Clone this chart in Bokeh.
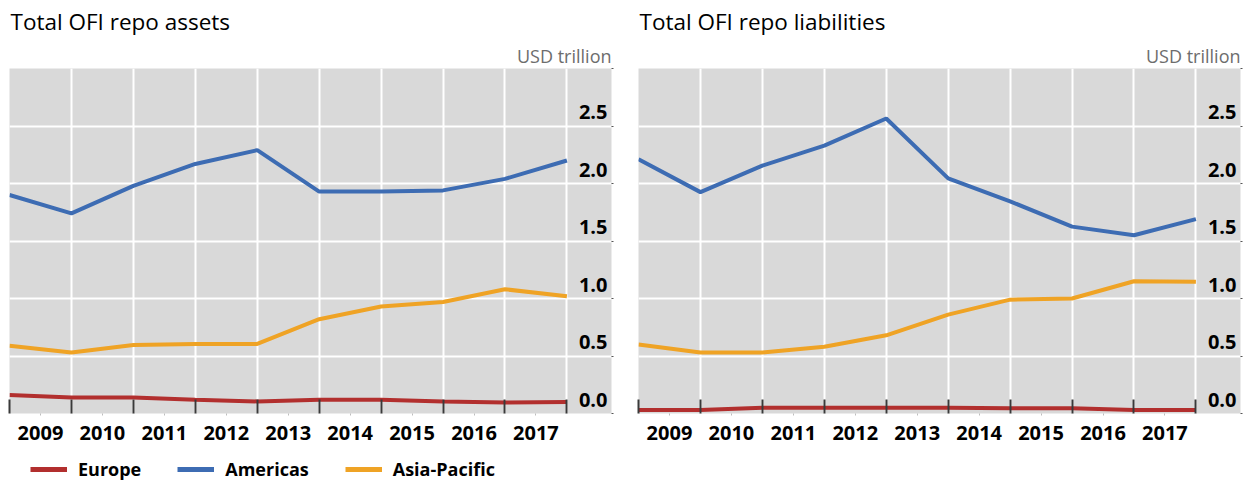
from bokeh.plotting import figure
from bokeh.models import (Range1d, LinearAxis, FixedTicker, Title, Legend,
                          LegendItem)
from bokeh.layouts import row, column
from bokeh.embed import file_html
from bokeh.resources import INLINE
from bokeh.core.properties import value

# ---------------- data ----------------
periods = [2009, 2010, 2011, 2012, 2013, 2014, 2015, 2016, 2017, 2018]
year_labels = ["2009", "2010", "2011", "2012", "2013", "2014", "2015", "2016", "2017"]
label_positions = [2009.5, 2010.5, 2011.5, 2012.5, 2013.5, 2014.5, 2015.5, 2016.5, 2017.5]
y_ticks = [0.0, 0.5, 1.0, 1.5, 2.0, 2.5]
y_tick_labels = ["0.0", "0.5", "1.0", "1.5", "2.0", "2.5"]
y_edge_ticks = [0.0, 0.5, 1.0, 1.5, 2.0, 2.5, 3.0]

assets_europe = [0.16, 0.14, 0.14, 0.12, 0.105, 0.12, 0.12, 0.105, 0.095, 0.10]
assets_americas = [1.90, 1.74, 1.98, 2.17, 2.29, 1.93, 1.93, 1.94, 2.04, 2.20]
assets_asia_pacific = [0.59, 0.53, 0.595, 0.605, 0.605, 0.82, 0.93, 0.97, 1.08, 1.02]

liabilities_europe = [0.03, 0.03, 0.05, 0.05, 0.05, 0.05, 0.045, 0.045, 0.03, 0.03]
liabilities_americas = [2.21, 1.925, 2.155, 2.33, 2.565, 2.045, 1.845, 1.625, 1.55, 1.69]
liabilities_asia_pacific = [0.60, 0.53, 0.53, 0.58, 0.68, 0.86, 0.99, 1.00, 1.15, 1.145]

series_names = ["Europe", "Americas", "Asia-Pacific"]
series_colors = ["#b22f2e", "#3d6cb3", "#efa325"]

X_START, X_END = 2009, 2018.72
Y_START, Y_END = 0.0, 3.0
FONT = "Open Sans"


def make_panel(title, series, border_left, border_right):
    p = figure(frame_width=602, frame_height=345,
               x_range=Range1d(X_START, X_END), y_range=Range1d(Y_START, Y_END),
               x_axis_location=None, y_axis_location=None,
               output_backend="svg", toolbar_location=None,
               min_border_left=border_left, min_border_right=border_right,
               min_border_top=10, min_border_bottom=44,
               background_fill_color="#d9d9d9", border_fill_color="white",
               outline_line_color=None)
    p.title = None

    p.xgrid.ticker = FixedTicker(ticks=periods)
    p.ygrid.ticker = FixedTicker(ticks=y_ticks)
    for g in (p.xgrid, p.ygrid):
        g.grid_line_color = "white"
        g.grid_line_width = 2

    # tick axis (inward year-boundary ticks, no labels)
    tick_axis = LinearAxis(ticker=FixedTicker(ticks=periods, minor_ticks=label_positions),
                           major_label_overrides={t: "" for t in periods},
                           axis_line_color=None,
                           major_tick_in=14, major_tick_out=0,
                           major_tick_line_color="#3a3a3a", major_tick_line_width=2,
                           minor_tick_in=0, minor_tick_out=2,
                           minor_tick_line_color="#bdbdbd",
                           major_label_text_font_size="1px",
                           major_label_standoff=0)
    p.add_layout(tick_axis, "below")

    # label axis (year labels centred between boundaries)
    label_axis = LinearAxis(ticker=FixedTicker(ticks=label_positions),
                            major_label_overrides={pos: lab for pos, lab in zip(label_positions, year_labels)},
                            axis_line_color=None,
                            major_tick_line_color=None, minor_tick_line_color=None,
                            major_tick_in=0, major_tick_out=0,
                            minor_tick_in=0, minor_tick_out=0,
                            major_label_standoff=10,
                            major_label_text_font=FONT,
                            major_label_text_font_size="20px",
                            major_label_text_font_style="bold",
                            major_label_text_color="black")
    p.add_layout(label_axis, "below")

    # small tick marks just outside the right edge
    edge_axis = LinearAxis(ticker=FixedTicker(ticks=y_edge_ticks),
                           major_label_overrides={t: "" for t in y_edge_ticks},
                           axis_line_color=None,
                           major_tick_in=0, major_tick_out=2,
                           major_tick_line_color="#555555", major_tick_line_width=1,
                           minor_tick_line_color=None,
                           major_label_text_font_size="1px",
                           major_label_standoff=0)
    p.add_layout(edge_axis, "right")

    # value labels inside the plot, right side, above grid lines
    p.text(x=[X_END] * len(y_ticks), y=y_ticks, text=y_tick_labels,
           text_align="right", text_baseline="bottom",
           x_offset=-4, y_offset=-7,
           text_font=value(FONT), text_font_size="20px", text_font_style="bold",
           text_color="black")

    for (name, vals), color in zip(series, series_colors):
        p.line(periods, vals, line_width=4, line_color=color)

    # titles
    p.add_layout(Title(text="USD trillion", align="right", text_font=FONT,
                       text_font_size="18px", text_font_style="normal",
                       text_color="#6d6d6d", standoff=2), "above")
    p.add_layout(Title(text=title, align="left", text_font=FONT,
                       text_font_size="22.5px", text_font_style="normal",
                       text_color="black", offset=1, standoff=7), "above")
    return p


def make_legend_strip(series):
    # legend-only strip; the proxy lines lie outside its visible range
    q = figure(frame_width=602, frame_height=24,
               x_range=Range1d(0, 1), y_range=Range1d(0, 1),
               x_axis_location=None, y_axis_location=None,
               output_backend="svg", toolbar_location=None,
               min_border_left=9, min_border_right=26,
               min_border_top=0, min_border_bottom=0,
               background_fill_color="white", border_fill_color="white",
               outline_line_color=None)
    q.grid.visible = False
    items = []
    for (name, vals), color in zip(series, series_colors):
        r = q.line(periods, vals, line_width=5, line_color=color)
        items.append(LegendItem(label=name, renderers=[r]))
    legend = Legend(items=items, orientation="horizontal", location=(21, 0),
                    spacing=36, glyph_width=37, glyph_height=24, label_height=24,
                    label_standoff=11, padding=0, margin=0,
                    label_text_font=FONT, label_text_font_size="18px",
                    label_text_font_style="bold", label_text_color="black",
                    border_line_color=None, background_fill_alpha=0)
    q.add_layout(legend, "center")
    return q


assets_series = list(zip(series_names, [assets_europe, assets_americas, assets_asia_pacific]))
liabilities_series = list(zip(series_names, [liabilities_europe, liabilities_americas, liabilities_asia_pacific]))

left = make_panel("Total OFI repo assets", assets_series, 9, 26)
right = make_panel("Total OFI repo liabilities", liabilities_series, 1, 6)
legend_strip = make_legend_strip(assets_series)

layout = row(column(left, legend_strip, spacing=0), right, spacing=0)
open("out.html", "w").write(file_html(layout, INLINE))
